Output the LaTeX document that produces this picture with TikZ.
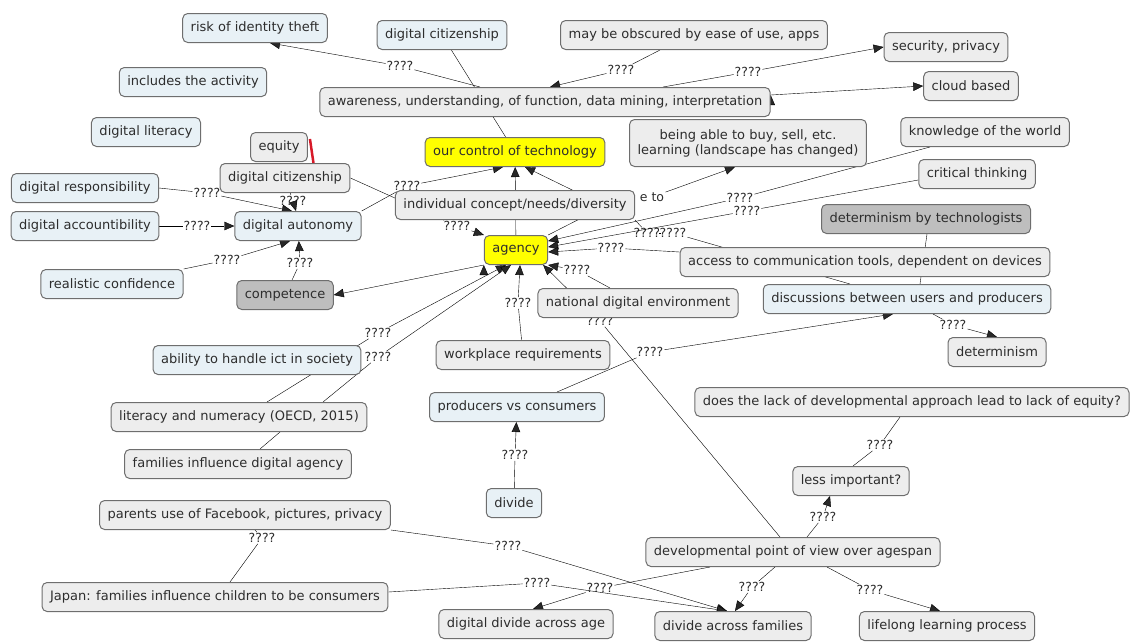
\documentclass[tikz,border=0pt]{standalone}
\usepackage{fontspec}
\setmainfont{DejaVu Sans}
\usetikzlibrary{arrows.meta, positioning}
\pgfdeclarelayer{back}
\pgfsetlayers{back,main}
\definecolor{cblu}{RGB}{232,241,246}
\definecolor{cgry}{RGB}{237,237,237}
\definecolor{cdrk}{RGB}{190,190,190}
\definecolor{cyel}{RGB}{255,255,0}
\definecolor{cbrd}{RGB}{110,110,110}
\definecolor{ctxt}{RGB}{45,45,45}
\definecolor{clin}{RGB}{40,40,40}
\definecolor{cred}{RGB}{215,25,40}

\begin{document}
\begin{tikzpicture}[x=1pt,y=-1pt,>={Triangle[length=10pt,width=8.5pt]},line width=0.9pt,draw=clin]
            \tikzset{cpt/.style={draw=cbrd,line width=1pt,rounded corners=5pt,fill=cgry,text=ctxt,
                      font=\fontsize{13}{15}\selectfont,inner xsep=8pt,minimum height=29pt}}
            \tikzset{cptb/.style={cpt,fill=cblu}}
            \tikzset{cptd/.style={cpt,fill=cdrk}}
            \tikzset{cpty/.style={cpt,fill=cyel}}
            \tikzset{lnk/.style={fill=white,text=ctxt,font=\fontsize{12.5}{14}\selectfont,inner sep=1pt}}

            \useasboundingbox (0,0) rectangle (1137,641);

            % concepts, top
            \node[cptb] (riskid) at (255,28) {risk of identity theft};
            \node[cptb] (includes) at (193,82) {includes the activity};
            \node[cptb] (diglit) at (146,132) {digital literacy};
            \node[cptb] (digcita) at (442,35) {digital citizenship};
            \node[cpt] (obscured) at (694,35) {may be obscured by ease of use, apps};
            \node[cpt] (awareness) at (545,102) {awareness, understanding, of function, data mining, interpretation};
            \node[cpt] (security) at (946,47) {security, privacy};
            \node[cpt] (cloud) at (971,86) {cloud based};
            \node[cpty] (ourcontrol) at (515,152) {our control of technology};
            \node[cpt,align=center,minimum height=47pt,inner ysep=3pt] (beingable) at (748,143) {being able to buy, sell, etc.\\learning (landscape has changed)};
            \node[cpt] (knowledge) at (985,132) {knowledge of the world};
            \node[cpt] (critical) at (977,174) {critical thinking};

            % concepts, middle
            \node[cpt] (equity) at (279,147) {equity};
            \node[cpt] (digcitb) at (285,178) {digital citizenship};
            \node[cptb] (digresp) at (85,188) {digital responsibility};
            \node[cptb] (digacc) at (85,226) {digital accountibility};
            \node[cptb] (digaut) at (298,226) {digital autonomy};
            \node[cptb] (realistic) at (112,284) {realistic confidence};
            \node[cptd] (competence) at (285,295) {competence};
            \node[cpt] (individual) at (515,205) {individual concept/needs/diversity};
            \node[lnk,fill=none] (eto) at (652,197) {e to};
            \node[cpty] (agency) at (516,250) {agency};
            \node[cptd] (dettech) at (926,219) {determinism by technologists};
            \node[cpt] (access) at (865,262) {access to communication tools, dependent on devices};
            \node[cptb] (discussions) at (907,299) {discussions between users and producers};
            \node[cpt] (national) at (638,303) {national digital environment};
            \node[cpt] (determinism) at (997,352) {determinism};
            \node[cptb] (ability) at (257,360) {ability to handle ict in society};
            \node[cpt] (workplace) at (523,355) {workplace requirements};
            \node[cptb] (producers) at (517,407) {producers vs consumers};
            \node[cpt] (literacy) at (239,417) {literacy and numeracy (OECD, 2015)};
            \node[cpt] (families) at (238,464) {families influence digital agency};

            % concepts, bottom
            \node[cpt] (doeslack) at (912,402) {does the lack of developmental approach lead to lack of equity?};
            \node[cpt] (lessimp) at (851,481) {less important?};
            \node[cptb] (divide) at (514,503) {divide};
            \node[cpt] (parents) at (245,515) {parents use of Facebook, pictures, privacy};
            \node[cpt] (developmental) at (793,552) {developmental point of view over agespan};
            \node[cpt] (japan) at (215,597) {Japan: families influence children to be consumers};
            \node[cpt] (digdivage) at (526,624) {digital divide across age};
            \node[cpt] (divfam) at (733,626) {divide across families};
            \node[cpt] (lifelong) at (947,626) {lifelong learning process};

            \begin{pgfonlayer}{back}
            % linking phrases
            \node[lnk] (lrisk) at (400,66) {????};
            \node[lnk] (lobs) at (621,70) {????};
            \node[lnk] (lsec) at (748,72) {????};
            \node[lnk] (lctl) at (407,186) {????};
            \node[lnk] (lag) at (457,226) {????};
            \node[lnk] (lkn) at (740,198) {????};
            \node[lnk] (lcr) at (747,211) {????};
            \node[lnk] (la) at (647,233) {????};
            \node[lnk] (lb) at (673,233) {????};
            \node[lnk] (lac) at (611,248) {????};
            \node[lnk] (lnat) at (577,270) {????};
            \node[lnk] (ldev) at (600,321) {????};
            \node[lnk] (lwp) at (518,303) {????};
            \node[lnk] (lli1) at (378,333) {????};
            \node[lnk] (lli2) at (378,357) {????};
            \node[lnk] (lpr) at (650,352) {????};
            \node[lnk] (ldiv) at (515,455) {????};
            \node[lnk] (ldisc) at (953,325) {????};
            \node[lnk] (lresp) at (207,193) {????};
            \node[lnk] (lcit) at (293,201) {????};
            \node[lnk] (lacc) at (197,226) {????};
            \node[lnk] (lreal) at (227,260) {????};
            \node[lnk] (lcomp) at (300,263) {????};
            \node[lnk] (lpar) at (508,546) {????};
            \node[lnk] (ljap) at (537,583) {????};
            \node[lnk] (ldage) at (600,588) {????};
            \node[lnk] (ldfam) at (752,587) {????};
            \node[lnk] (llife) at (870,590) {????};
            \node[lnk] (lless) at (823,517) {????};
            \node[lnk] (lla) at (880,445) {????};
            \node[lnk] (lpj) at (262,538) {????};
            \coordinate (hp) at (605,206);

            % connectors
            \draw (digcita) edge (ourcontrol);
            \draw ([xshift=-65pt]awareness.north) edge (lrisk);
            \draw[->] (lrisk) edge ([xshift=15pt]riskid.south);
            \draw ([xshift=-34pt]obscured.south) edge (lobs);
            \draw[->] (lobs) edge ([xshift=5pt]awareness.north);
            \draw ([xshift=118pt]awareness.north) edge (lsec);
            \draw[->] (lsec) edge (security.west);
            \draw[->] ([yshift=-8pt]awareness.north east) edge (cloud.west);

            \draw[->] (agency) edge (ourcontrol);
            \draw (digaut.north east) edge (lctl);
            \draw[->] (lctl) edge ([xshift=-12pt]ourcontrol.south);
            \draw (digcitb.east) edge (lag);
            \draw[->] (lag) edge (agency.north west);
            \draw (agency.north east) edge (hp);
            \draw[->] (hp) edge ([xshift=10pt]ourcontrol.south);
            \draw[->] (eto) edge ([xshift=-13pt]beingable.south);

            \draw ([xshift=-55pt]knowledge.south) edge (lkn);
            \draw[->] (lkn) edge ([yshift=9pt]agency.east);
            \draw ([yshift=-6pt]critical.west) edge (lcr);
            \draw[->] (lcr) edge ([yshift=3pt]agency.east);
            \draw (individual.south east) edge (la);
            \draw (la) edge (lb);
            \draw (lb) edge ([xshift=-57pt]discussions.north);
            \draw ([yshift=10pt]access.west) edge (lac);
            \draw[->] (lac) edge ([yshift=-2pt]agency.east);
            \draw ([xshift=-28pt]national.north) edge (lnat);
            \draw[->] (lnat) edge (agency.south east);
            \draw ([xshift=-13pt]developmental.north) edge (ldev);
            \draw[->] (ldev) edge ([xshift=-5pt]agency.south east);
            \draw (workplace) edge (lwp);
            \draw[->] (lwp) edge ([xshift=4pt]agency.south);
            \draw[->] (agency.south west) edge (competence.east);

            \draw ([xshift=28pt]literacy.north) edge (lli1);
            \draw ([xshift=84pt]literacy.north) edge (lli2);
            \draw[->] (lli1) edge ([xshift=-10pt]agency.south);
            \draw[->] (lli2) edge ([xshift=-5pt]agency.south);
            \draw ([xshift=22pt]families.north) edge ([xshift=41pt]literacy.south);

            \draw ([xshift=40pt]producers.north) edge (lpr);
            \draw[->] (lpr) edge ([xshift=-14pt]discussions.south);
            \draw (divide) edge (ldiv);
            \draw[->] (ldiv) edge (producers);
            \draw ([xshift=26pt]discussions.south) edge (ldisc);
            \draw[->] (ldisc) edge (determinism.north);
            \draw ([xshift=1pt]dettech.south) edge ([xshift=13pt]discussions.north);

            \draw (digresp.east) edge (lresp);
            \draw[->] (lresp) edge ([xshift=-6pt]digaut.north);
            \draw (digcitb) edge (lcit);
            \draw[->] (lcit) edge ([xshift=-2pt]digaut.north);
            \draw (digacc) edge (lacc);
            \draw[->] (lacc) edge (digaut);
            \draw (realistic.north east) edge (lreal);
            \draw[->] (lreal) edge ([xshift=-8pt]digaut.south);
            \draw (competence) edge (lcomp);
            \draw[->] (lcomp) edge (digaut);
            \draw[cred,line width=2.5pt] ([xshift=2pt,yshift=-7pt]equity.north east) edge ([xshift=-37pt]digcitb.north east);

            \draw (parents.south east) edge (lpar);
            \draw[->] (lpar) edge ([xshift=-6pt]divfam.north);
            \draw ([yshift=5pt]japan.east) edge (ljap);
            \draw[->] (ljap) edge ([xshift=-6pt]divfam.north);
            \draw ([xshift=-83pt]developmental.south) edge (ldage);
            \draw[->] (ldage) edge ([xshift=7pt]digdivage.north);
            \draw ([xshift=-18pt]developmental.south) edge (ldfam);
            \draw[->] (ldfam) edge ([xshift=2pt]divfam.north);
            \draw ([xshift=34pt]developmental.south) edge (llife);
            \draw[->] (llife) edge ([xshift=-7pt]lifelong.north);
            \draw ([xshift=14pt]developmental.north) edge (lless);
            \draw[->] (lless) edge ([xshift=-21pt]lessimp.south);
            \draw ([xshift=2pt]lessimp.north) edge (lla);
            \draw (lla) edge ([xshift=-12pt]doeslack.south);
            \draw ([xshift=10pt]parents.south) edge (lpj);
            \draw (lpj) edge ([xshift=15pt]japan.north);
            \end{pgfonlayer}

        \end{tikzpicture}
\end{document}
